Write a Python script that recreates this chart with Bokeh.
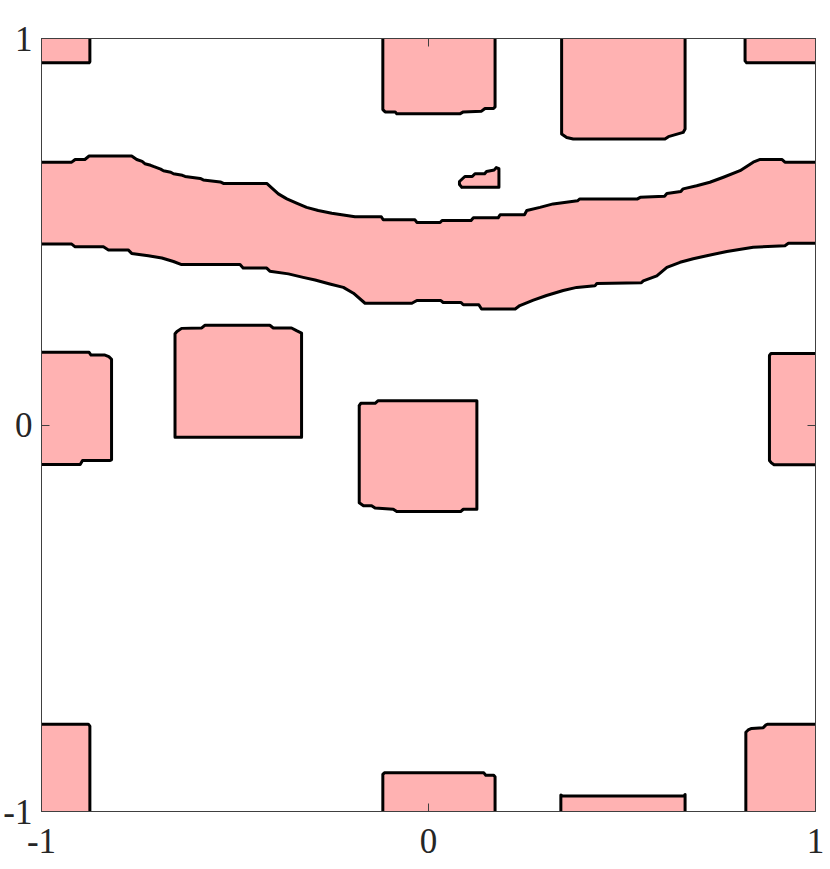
from bokeh.plotting import figure
from bokeh.models import Range1d, FixedTicker, LinearAxis
from bokeh.embed import file_html
from bokeh.resources import INLINE

# ---- tick values / labels ----
tick_values = [-1, 0, 1]
tick_labels = {-1: "-1", 0: "0", 1: "1"}

# ---- contour boundaries (data units) ----
# top-left corner region
tl_x = [-1, -0.877, -0.875, -0.875]
tl_y = [0.937, 0.937, 0.940, 1]
tl_corner_x = [-1]
tl_corner_y = [1]

# top-right corner region
tr_x = [0.818, 0.818, 0.822, 1]
tr_y = [1, 0.942, 0.937, 0.937]
tr_corner_x = [1]
tr_corner_y = [1]

# top centre box
tc_x = [-0.118, -0.118, -0.112, -0.086, -0.082, 0.081, 0.090, 0.137, 0.146, 0.168, 0.172, 0.172]
tc_y = [1, 0.816, 0.810, 0.810, 0.805, 0.805, 0.810, 0.812, 0.819, 0.819, 0.823, 1]

# top right box
trb_x = [0.344, 0.344, 0.357, 0.374, 0.611, 0.620, 0.658, 0.663, 0.663]
trb_y = [1, 0.753, 0.744, 0.740, 0.740, 0.746, 0.757, 0.766, 1]

# band: upper and lower boundaries (stair-stepped as in the contour)
band_top_x = [-1, -0.922, -0.913, -0.888, -0.877, -0.767, -0.754, -0.740, -0.733, -0.718,
              -0.711, -0.692, -0.685, -0.666, -0.659, -0.636, -0.629, -0.590, -0.582, -0.538,
              -0.530, -0.418, -0.388, -0.366, -0.341, -0.315, -0.285, -0.250, -0.190, -0.122,
              -0.117, -0.035, -0.030, 0.030, 0.035, 0.110, 0.116, 0.180, 0.185, 0.248,
              0.254, 0.288, 0.322, 0.385, 0.391, 0.540, 0.547, 0.610, 0.616, 0.652,
              0.658, 0.693, 0.727, 0.762, 0.805, 0.839, 0.857, 0.913, 0.921, 1]
band_top_y = [0.680, 0.680, 0.687, 0.687, 0.696, 0.696, 0.687, 0.682, 0.676, 0.672,
              0.669, 0.662, 0.658, 0.654, 0.650, 0.646, 0.643, 0.638, 0.634, 0.629,
              0.625, 0.625, 0.598, 0.585, 0.574, 0.563, 0.555, 0.548, 0.539, 0.539,
              0.531, 0.531, 0.524, 0.524, 0.529, 0.529, 0.536, 0.536, 0.544, 0.544,
              0.555, 0.563, 0.572, 0.580, 0.585, 0.585, 0.589, 0.592, 0.599, 0.604,
              0.611, 0.619, 0.628, 0.641, 0.658, 0.680, 0.687, 0.687, 0.680, 0.680]
band_bot_x = [-1, -0.922, -0.913, -0.840, -0.827, -0.776, -0.767, -0.724, -0.689, -0.659,
              -0.638, -0.487, -0.479, -0.418, -0.410, -0.362, -0.324, -0.293, -0.255, -0.220,
              -0.194, -0.164, -0.043, -0.030, 0.032, 0.038, 0.084, 0.090, 0.130, 0.137,
              0.224, 0.236, 0.271, 0.305, 0.348, 0.383, 0.430, 0.435, 0.550, 0.555,
              0.590, 0.616, 0.650, 0.684, 0.719, 0.771, 0.839, 0.921, 0.930, 1]
band_bot_y = [0.468, 0.468, 0.461, 0.461, 0.453, 0.453, 0.444, 0.438, 0.432, 0.423,
              0.415, 0.415, 0.406, 0.406, 0.398, 0.391, 0.382, 0.375, 0.365, 0.356,
              0.341, 0.315, 0.315, 0.322, 0.322, 0.317, 0.317, 0.311, 0.311, 0.300,
              0.300, 0.309, 0.323, 0.335, 0.348, 0.356, 0.360, 0.366, 0.368, 0.373,
              0.386, 0.408, 0.421, 0.430, 0.438, 0.449, 0.460, 0.464, 0.470, 0.470]

# small island above the band
isl_x = [0.086, 0.182, 0.182, 0.175, 0.170, 0.150, 0.145, 0.120, 0.113, 0.094, 0.080, 0.080, 0.086]
isl_y = [0.615, 0.615, 0.663, 0.666, 0.660, 0.656, 0.650, 0.650, 0.643, 0.643, 0.630, 0.622, 0.615]

# left edge box
lb_x = [-1, -0.877, -0.872, -0.836, -0.826, -0.819, -0.819, -0.824, -0.894, -0.900, -1]
lb_y = [0.188, 0.188, 0.181, 0.181, 0.177, 0.170, -0.090, -0.092, -0.092, -0.102, -0.102]

# middle-left box
ml_x = [-0.655, -0.655, -0.650, -0.638, -0.586, -0.578, -0.410, -0.401, -0.354, -0.341, -0.328, -0.328, -0.655]
ml_y = [-0.032, 0.236, 0.242, 0.250, 0.251, 0.258, 0.258, 0.251, 0.251, 0.244, 0.238, -0.032, -0.032]

# centre box
cb_x = [-0.179, -0.175, -0.138, -0.130, 0.125, 0.125, 0.090, 0.083, -0.082, -0.091, -0.138, -0.147, -0.168, -0.179, -0.179]
cb_y = [0.050, 0.056, 0.056, 0.063, 0.063, -0.218, -0.218, -0.224, -0.224, -0.218, -0.215, -0.209, -0.209, -0.201, 0.050]

# right edge box
rb_x = [1, 0.885, 0.881, 0.881, 0.886, 0.893, 1]
rb_y = [0.185, 0.185, 0.180, -0.092, -0.098, -0.103, -0.103]

# bottom-left corner region
bl_x = [-1, -0.879, -0.875, -0.875]
bl_y = [-0.774, -0.774, -0.779, -1]
bl_corner_x = [-1]
bl_corner_y = [-1]

# bottom centre box
bc_x = [-0.118, -0.118, -0.114, 0.143, 0.148, 0.168, 0.172, 0.172]
bc_y = [-1, -0.904, -0.900, -0.900, -0.906, -0.906, -0.910, -1]

# bottom right low box
brl_x = [0.342, 0.342, 0.346, 0.660, 0.663, 0.663]
brl_y = [-1, -0.957, -0.960, -0.960, -0.956, -1]

# bottom-right corner region
br_x = [0.820, 0.820, 0.826, 0.835, 0.865, 0.872, 0.877, 1]
br_y = [-1, -0.795, -0.789, -0.785, -0.783, -0.776, -0.774, -0.774]
br_corner_x = [1]
br_corner_y = [-1]

FILL = "#ffb2b2"
AX = "#404040"
TXT = "#262626"
FONT = "Liberation Serif"

p = figure(frame_width=774, frame_height=773,
           x_range=Range1d(-1, 1), y_range=Range1d(-1, 1),
           output_backend="svg", toolbar_location=None,
           x_axis_location=None, y_axis_location=None,
           min_border_left=41, min_border_right=14, min_border_top=38, min_border_bottom=56)
p.grid.visible = False
p.outline_line_color = AX
p.outline_line_width = 1
p.background_fill_color = "white"
p.border_fill_color = "white"

# fills
fill_xs = [tl_x + tl_corner_x, tr_x + tr_corner_x, tc_x, trb_x,
           band_top_x + band_bot_x[::-1], isl_x, lb_x, ml_x, cb_x, rb_x,
           bl_x + bl_corner_x, bc_x, brl_x, br_x + br_corner_x]
fill_ys = [tl_y + tl_corner_y, tr_y + tr_corner_y, tc_y, trb_y,
           band_top_y + band_bot_y[::-1], isl_y, lb_y, ml_y, cb_y, rb_y,
           bl_y + bl_corner_y, bc_y, brl_y, br_y + br_corner_y]
p.patches(fill_xs, fill_ys, fill_color=FILL, line_color=None)

# contour lines
line_xs = [tl_x, tr_x, tc_x, trb_x, band_top_x, band_bot_x, isl_x, lb_x, ml_x, cb_x, rb_x,
           bl_x, bc_x, brl_x, br_x]
line_ys = [tl_y, tr_y, tc_y, trb_y, band_top_y, band_bot_y, isl_y, lb_y, ml_y, cb_y, rb_y,
           bl_y, bc_y, brl_y, br_y]
p.multi_line(line_xs, line_ys, line_color="black", line_width=3, line_join="round", line_cap="round")


def make_axis(show_labels, standoff):
    ax = LinearAxis(ticker=FixedTicker(ticks=tick_values))
    ax.major_label_overrides = tick_labels
    ax.major_tick_in = 8
    ax.major_tick_out = 0
    ax.minor_tick_line_color = None
    ax.axis_line_color = AX
    ax.major_tick_line_color = AX
    ax.major_label_text_font = FONT
    ax.major_label_text_color = TXT
    ax.major_label_standoff = standoff
    if show_labels:
        ax.major_label_text_font_size = "35px"
    else:
        ax.major_label_text_font_size = "0px"
        ax.major_label_text_color = None
    return ax


p.add_layout(make_axis(True, 17), "below")
p.add_layout(make_axis(True, 9), "left")
p.add_layout(make_axis(False, 0), "above")
p.add_layout(make_axis(False, 0), "right")

open("out.html", "w").write(file_html(p, INLINE))
